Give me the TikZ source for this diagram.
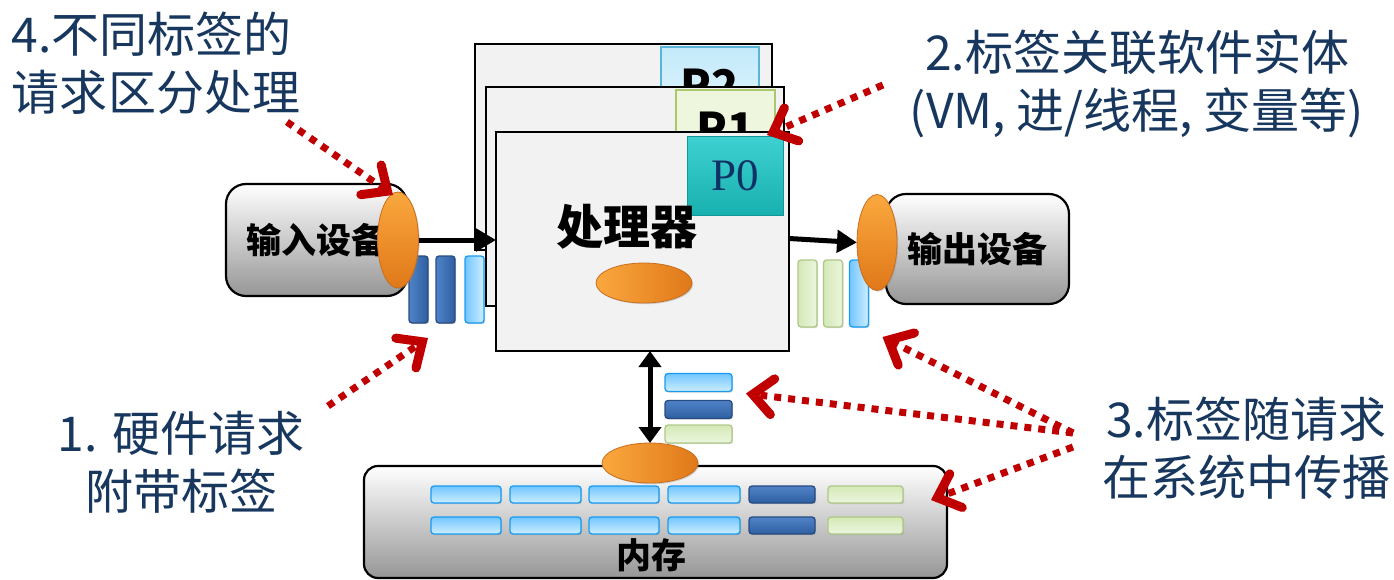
\documentclass[tikz,border=0pt]{standalone}
\usepackage{fontspec}
\setmainfont{Noto Sans CJK SC}
\newfontfamily\pfont{Liberation Serif}
\usepackage{xcolor}
\usetikzlibrary{positioning, arrows.meta, shapes.geometric, shadows}

\definecolor{navy}{RGB}{23,55,94}
\definecolor{tagred}{RGB}{192,0,0}
\definecolor{cpufill}{RGB}{242,242,242}
\definecolor{devgray}{RGB}{150,150,150}
\definecolor{lbtop}{RGB}{115,198,255}
\definecolor{lbbot}{RGB}{205,238,255}
\definecolor{lbline}{RGB}{25,155,240}
\definecolor{dbtop}{RGB}{80,130,200}
\definecolor{dbbot}{RGB}{45,95,160}
\definecolor{dbline}{RGB}{40,75,130}
\definecolor{grtop}{RGB}{212,233,182}
\definecolor{grbot}{RGB}{236,246,222}
\definecolor{grline}{RGB}{175,200,135}
\definecolor{ellL}{RGB}{250,168,62}
\definecolor{ellR}{RGB}{224,120,25}
\definecolor{ellline}{RGB}{200,110,30}
\definecolor{teal0}{RGB}{28,200,200}
\definecolor{p0text}{RGB}{15,50,100}

\begin{document}
\begin{tikzpicture}[x=1pt, y=-1pt,
  every node/.style={inner sep=0pt, outer sep=0pt},
  sized/.style 2 args={minimum width=#1, minimum height=#2},
  note/.style={text=navy, font=\fontsize{48}{58}\selectfont, align=center},
  bold/.style={font=\bfseries\fontsize{#1}{#1}\selectfont},
  cpu/.style={draw, line width=2pt, fill=cpufill},
  device/.style={draw, line width=2.2pt, rounded corners=20pt, top color=white, bottom color=devgray},
  tagshadow/.style={drop shadow={shadow xshift=1.2pt, shadow yshift=-1.2pt, opacity=0.3}},
  lb/.style={draw=lbline, line width=1.3pt, rounded corners=3pt, top color=lbtop, bottom color=lbbot, tagshadow},
  db/.style={draw=dbline, line width=1.3pt, rounded corners=3pt, top color=dbtop, bottom color=dbbot, tagshadow},
  gr/.style={draw=grline, line width=1.3pt, rounded corners=3pt, top color=grtop, bottom color=grbot, tagshadow},
  ptag/.style={font=\bfseries\fontsize{45}{45}\selectfont, line width=1.2pt},
  tagell/.style={ellipse, draw=ellline, line width=0.8pt, left color=ellL, right color=ellR, tagshadow},
  bigarrow/.style={line width=5pt, -{Triangle[length=20pt,width=22pt]}},
  redarrow/.style={draw=tagred, line width=7pt, dash pattern=on 7pt off 7pt,
    -{Straight Barb[length=20pt,width=36pt,line width=9pt,line cap=round,line join=miter]}}
]
\useasboundingbox (0,0) rectangle (1394,580);

\node[cpu, sized={297}{206}] (p2) at (623.5,147) {};
\node[ptag, sized={98}{78}, draw={rgb,255:red,90;green,180;blue,215}, top color={rgb,255:red,195;green,234;blue,250}, bottom color={rgb,255:red,228;green,246;blue,253}] (p2tag) at (710,86) {P2};
\node[cpu, sized={298}{219}] (p1) at (635,196.5) {};
\node[ptag, sized={99}{78}, draw={rgb,255:red,170;green,200;blue,110}, fill={rgb,255:red,238;green,246;blue,222}] (p1tag) at (725.5,129) {P1};
\node[cpu, sized={293}{219}] (p0) at (642.5,241.5) {};
\node[sized={96}{78}, draw={rgb,255:red,20;green,150;blue,150}, line width=1pt, top color=teal0!85!white, bottom color=teal0!88!black, tagshadow, text=p0text, font=\pfont\fontsize{45}{45}\selectfont] (p0tag) at (735,176) {\raisebox{-6pt}{P0}};
\node[bold=47] (cputext) at (627,227) {处理器};
\node[tagell, sized={96}{40}] (cpuell) at (644,283) {};

\node[device, sized={181}{112}, bold=35] (in) at (316.5,240) {输入设备};
\foreach \x/\s [count=\i] in {418.5/db, 445.5/db, 474.5/lb}
  \node[\s, shading angle=90, sized={19}{67}] (inbar\i) at (\x,289.5) {};
\node[tagell, shading angle=0, sized={41}{96}] (inell) at (398,240) {};
\draw[bigarrow] (inell.east) -- (inell.east -| p0.west);

\node[device, sized={183}{110}, bold=35] (out) at (977.5,249) {输出设备};
\foreach \x/\s [count=\i] in {807.5/gr, 833/gr, 859/lb}
  \node[\s, shading angle=90, sized={19}{67}] (outbar\i) at (\x,293.5) {};
\node[tagell, shading angle=0, sized={40}{96}] (outell) at (877,242.5) {};
\draw[bigarrow] ([yshift=3pt]p0.east) -- (outell.west);

\node[device, rounded corners=14pt, sized={583}{112}] (mem) at (655.5,522) {};
\node[bold=35] (memtext) at (651,555) {内存};
\foreach \x/\w/\s [count=\i] in {466/70/lb, 545.5/71/lb, 624/70/lb, 704/72/lb, 782/66/db, 865.5/75/gr} {
  \node[\s, sized={\w}{17}] (m1-\i) at (\x,494.5) {};
  \node[\s, sized={\w}{17}] (m2-\i) at (\x,525.5) {};
}
\node[tagell, sized={96}{40}] (memell) at (650,463) {};
\foreach \y/\s [count=\i] in {382.5/lb, 409.5/db, 434/gr}
  \node[\s, sized={67}{18}] (stk\i) at (698.5,\y) {};
\draw[line width=5pt, {Triangle[length=16pt,width=22pt]}-{Triangle[length=16pt,width=22pt]}] (memell.north) -- (memell.north |- p0.south);

\node[note, anchor=west, align=left] (n4) at (12,63) {4.不同标签的\\请求区分处理};
\node[note] (n2) at (1137,84) {2.标签关联软件实体\\(VM, 进/线程, 变量等)};
\node[note] (n1) at (181,462) {1. 硬件请求\\附带标签};
\node[note] (n3) at (1246,448) {3.标签随请求\\在系统中传播};

\coordinate (s4) at (287,122);
\coordinate (s2) at (883,85);
\coordinate (s1) at (328,406);
\coordinate (s3a) at (1073,433);
\coordinate (s3c) at (1073,447);
\draw[redarrow] (s4) -- ([shift={(-5,3)}]inell.north);
\draw[redarrow] (s2) -- ([shift={(-16,-2)}]p0tag.north east);
\draw[redarrow] (s1) -- ([shift={(0,15)}]inbar1.south east);
\draw[redarrow] (s3a) -- ([shift={(14,10)}]outbar3.south east);
\draw[redarrow] (s3a) -- ([shift={(14,2)}]stk1.south east);
\draw[redarrow] (s3c) -- ([shift={(-16,-22)}]mem.east);
\end{tikzpicture}
\end{document}
